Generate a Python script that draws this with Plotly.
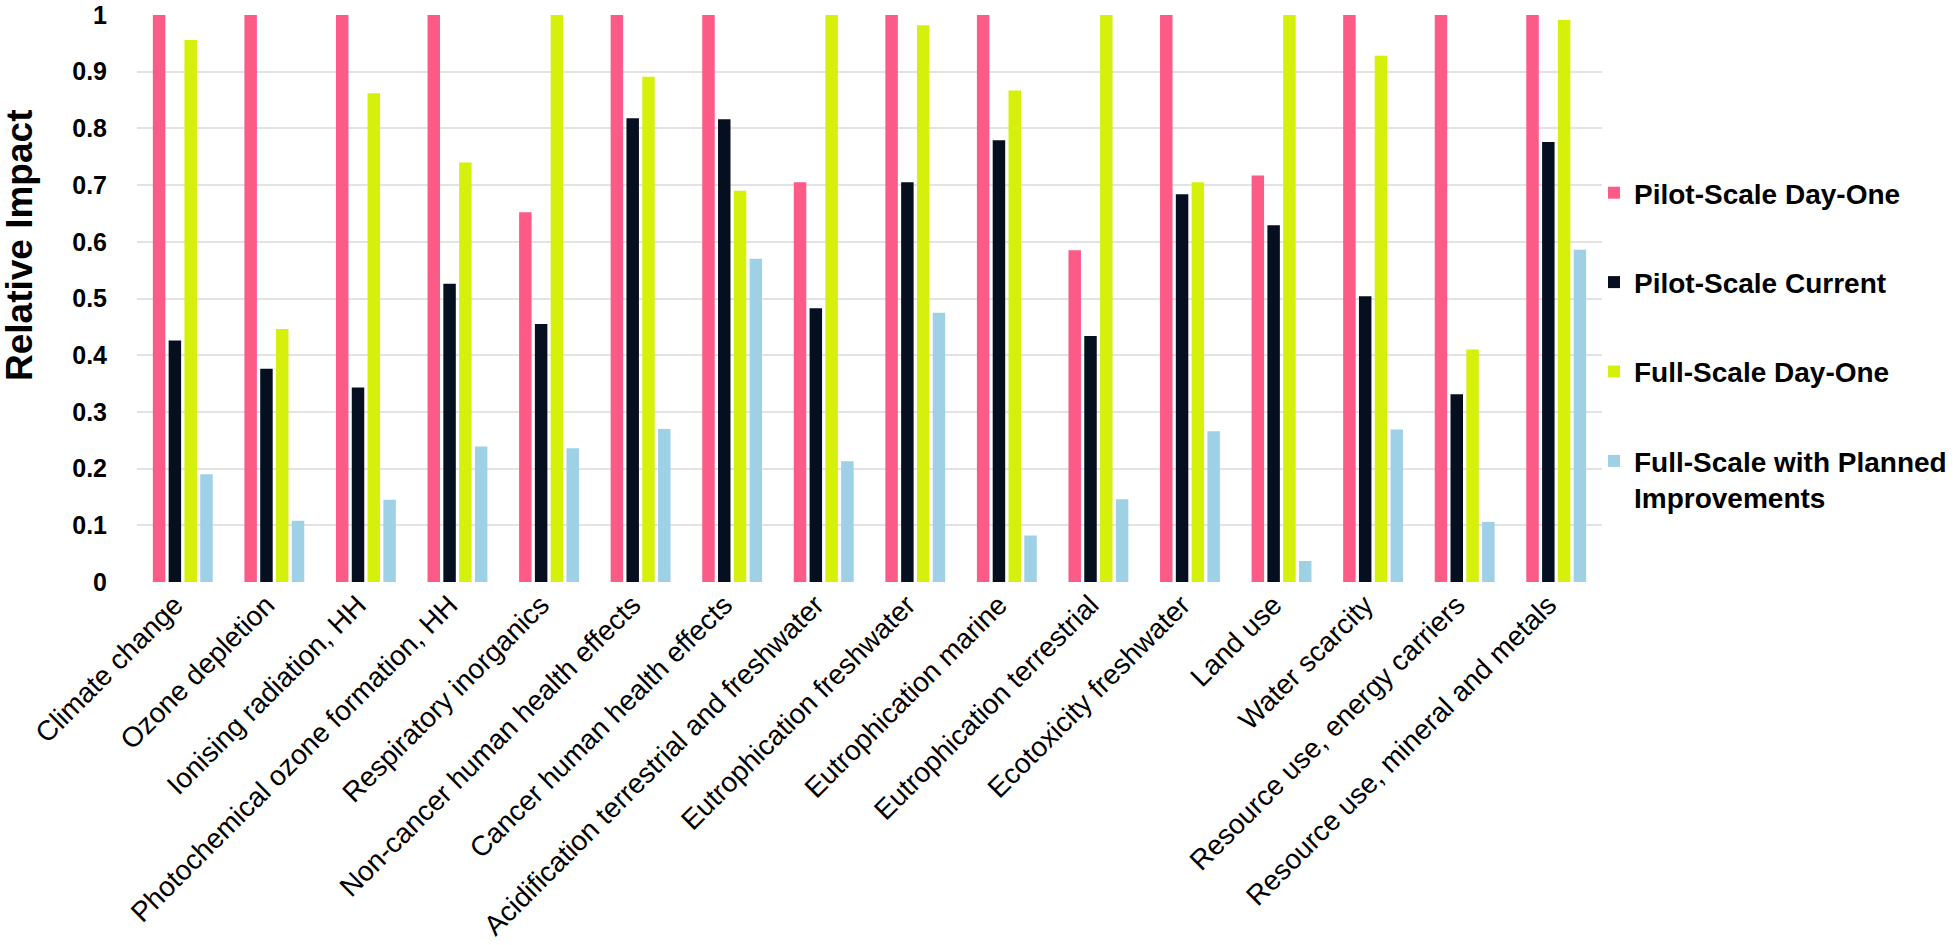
import plotly.graph_objects as go

categories = [
    "Climate change", "Ozone depletion", "Ionising radiation, HH",
    "Photochemical ozone formation, HH", "Respiratory inorganics",
    "Non-cancer human health effects", "Cancer human health effects",
    "Acidification terrestrial and freshwater", "Eutrophication freshwater",
    "Eutrophication marine", "Eutrophication terrestrial", "Ecotoxicity freshwater",
    "Land use", "Water scarcity", "Resource use, energy carriers",
    "Resource use, mineral and metals",
]

pilot_day_one = [1, 1, 1, 1, 0.652, 1, 1, 0.705, 1, 1, 0.585, 1, 0.717, 1, 1, 1]
pilot_current = [0.426, 0.376, 0.343, 0.526, 0.455, 0.818, 0.816, 0.483, 0.705, 0.779,
                 0.434, 0.684, 0.629, 0.504, 0.331, 0.776]
full_day_one = [0.956, 0.446, 0.862, 0.740, 1.0, 0.891, 0.690, 1.0, 0.982, 0.867,
                1.0, 0.705, 1.0, 0.928, 0.410, 0.991]
full_planned = [0.190, 0.108, 0.145, 0.239, 0.236, 0.270, 0.570, 0.213, 0.475, 0.082,
                0.146, 0.266, 0.037, 0.269, 0.106, 0.586]

series_names = ["Pilot-Scale Day-One", "Pilot-Scale Current", "Full-Scale Day-One",
                "Full-Scale with Planned<br>Improvements"]
series_values = [pilot_day_one, pilot_current, full_day_one, full_planned]
colors = ["#FC5A87", "#050F20", "#D4F00B", "#9ED0E6"]

y_ticks = [0, 0.1, 0.2, 0.3, 0.4, 0.5, 0.6, 0.7, 0.8, 0.9, 1]
y_tick_labels = ["0", "0.1", "0.2", "0.3", "0.4", "0.5", "0.6", "0.7", "0.8", "0.9", "1"]

FONT = "Liberation Sans, Arial, Helvetica, sans-serif"

fig = go.Figure()
for i, (name, vals, col) in enumerate(zip(series_names, series_values, colors)):
    fig.add_trace(go.Bar(
        x=categories, y=vals, name=name, legendgroup=f"g{i}",
        marker=dict(color=col, line=dict(width=0)),
    ))

W, H = 1958, 945
L, R, T, B = 137, 1602, 15, 582

fig.update_layout(
    width=W, height=H,
    margin=dict(l=L, r=W - R, t=T, b=H - B, pad=0, autoexpand=False),
    paper_bgcolor="white", plot_bgcolor="white",
    barmode="group", bargap=0.31, bargroupgap=0.21,
    font=dict(family=FONT, color="black"),
    showlegend=True,
    legend=dict(
        xref="container", yref="container",
        x=1594 / W, y=1 - 168 / H, xanchor="left", yanchor="top",
        font=dict(size=28, family=FONT, color="black", weight="bold"),
        tracegroupgap=50, itemwidth=30, valign="top",
        bgcolor="rgba(0,0,0,0)",
    ),
    xaxis=dict(
        tickangle=-45, tickfont=dict(size=28, family=FONT, color="black"),
        showgrid=False, showline=False, zeroline=False, ticks="",
        range=[-0.5, 15.5], ticklabelshift=-8, automargin=False,
    ),
    yaxis=dict(
        range=[0, 1], tickvals=y_ticks, ticktext=y_tick_labels,
        tickfont=dict(size=25, family=FONT, color="black", weight="bold"),
        showgrid=True, gridcolor="#E3E3E3", gridwidth=1.5,
        zeroline=False, showline=False,
        ticks="outside", ticklen=24, tickcolor="rgba(0,0,0,0)",
        ticklabeloverflow="allow", automargin=False,
    ),
    annotations=[dict(
        text="<b>Relative Impact</b>", textangle=-90,
        xref="paper", yref="paper",
        x=(19 - L) / (R - L), y=(B - 246) / (B - T),
        xanchor="center", yanchor="middle", showarrow=False,
        font=dict(size=37, family=FONT, color="black"),
    )],
)

fig.write_html("out.html", config={"displayModeBar": False},
               post_script="document.body.style.margin='0';")
